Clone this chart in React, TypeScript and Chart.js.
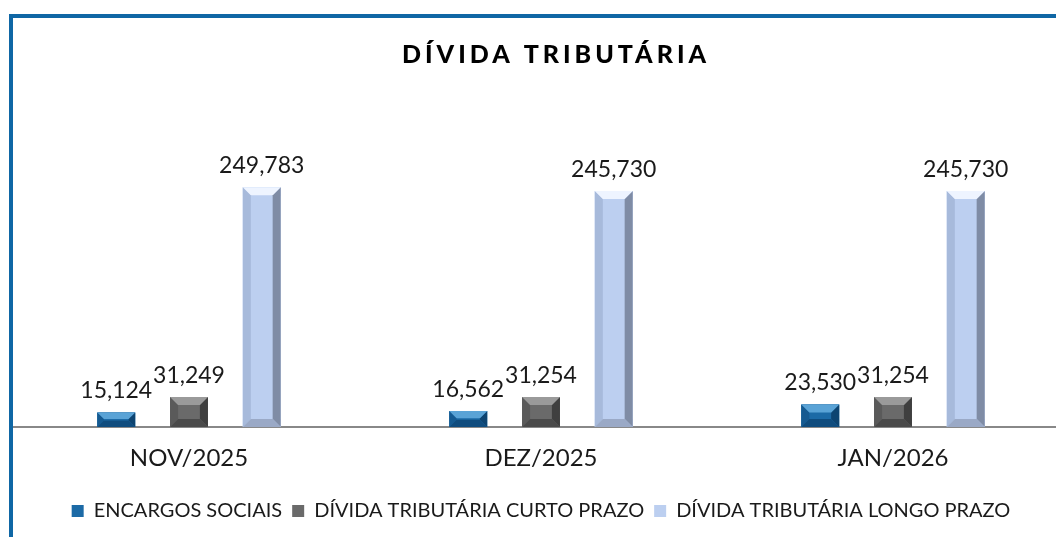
import React, { useEffect, useRef } from "react";
import { Chart, registerables } from "chart.js";

Chart.register(...registerables);

const categories = ["NOV/2025", "DEZ/2025", "JAN/2026"];
const encargosSociais = [15124, 16562, 23530];
const dividaCurtoPrazo = [31249, 31254, 31254];
const dividaLongoPrazo = [249783, 245730, 245730];
const seriesNames = [
  "ENCARGOS SOCIAIS",
  "DÍVIDA TRIBUTÁRIA CURTO PRAZO",
  "DÍVIDA TRIBUTÁRIA LONGO PRAZO",
];
const chartTitle = "DÍVIDA TRIBUTÁRIA";

const FONT = "Lato, 'Noto Sans', sans-serif";

type Bevel = { face: string; top: string; left: string; right: string; bottom: string };
const bevels: Bevel[] = [
  { face: "#1c6aa6", top: "#5aa3d6", left: "#155a91", right: "#0d4471", bottom: "#0f4c7e" },
  { face: "#6a6a6a", top: "#9a9a9a", left: "#5a5a5a", right: "#3f3f3f", bottom: "#4a4a4a" },
  { face: "#bccff0", top: "#eef4ff", left: "#a7badb", right: "#7f8ca5", bottom: "#9aa9c6" },
];

const fmt = (v: number) => v.toLocaleString("en-US");

const bevelPlugin = {
  id: "bevel",
  afterDatasetDraw(chart: any, args: any) {
    const ctx = chart.ctx;
    const b = bevels[args.index];
    const meta = args.meta;
    meta.data.forEach((el: any) => {
      const { x, y, base, width } = el.getProps(["x", "y", "base", "width"], true);
      const L = x - width / 2;
      const R = x + width / 2;
      const T = Math.min(y, base);
      const B = Math.max(y, base);
      const s = Math.min(8, (B - T) / 2.2, width / 4);
      const poly = (pts: number[][], c: string) => {
        ctx.beginPath();
        ctx.moveTo(pts[0][0], pts[0][1]);
        for (let i = 1; i < pts.length; i++) ctx.lineTo(pts[i][0], pts[i][1]);
        ctx.closePath();
        ctx.fillStyle = c;
        ctx.fill();
      };
      ctx.save();
      poly([[L, T], [R, T], [R, B], [L, B]], b.face);
      poly([[L, T], [L + s, T + s], [L + s, B - s], [L, B]], b.left);
      poly([[R, T], [R - s, T + s], [R - s, B - s], [R, B]], b.right);
      poly([[L, B], [L + s, B - s], [R - s, B - s], [R, B]], b.bottom);
      poly([[L, T], [R, T], [R - s, T + s], [L + s, T + s]], b.top);
      ctx.restore();
    });
  },
  afterDatasetsDraw(chart: any) {
    const ctx = chart.ctx;
    ctx.save();
    ctx.font = `23px ${FONT}`;
    ctx.fillStyle = "#1a1a1a";
    ctx.textAlign = "center";
    ctx.textBaseline = "bottom";
    chart.data.datasets.forEach((ds: any, i: number) => {
      const meta = chart.getDatasetMeta(i);
      meta.data.forEach((el: any, j: number) => {
        const { x, y } = el.getProps(["x", "y"], true);
        ctx.fillText(fmt(ds.data[j]), x, y - 10);
      });
    });
    ctx.restore();
  },
  afterDraw(chart: any) {
    const ctx = chart.ctx;
    ctx.save();
    ctx.font = `900 25px ${FONT}`;
    (ctx as any).letterSpacing = "4px";
    ctx.fillStyle = "#000";
    ctx.textAlign = "center";
    ctx.textBaseline = "middle";
    ctx.fillText(chartTitle, chart.width / 2 + 15, 37);
    ctx.restore();
  },
};

export default function App() {
  const ref = useRef<HTMLCanvasElement | null>(null);
  useEffect(() => {
    if (!ref.current) return;
    const values = [encargosSociais, dividaCurtoPrazo, dividaLongoPrazo];
    const chart = new Chart(ref.current, {
      type: "bar",
      data: {
        labels: categories,
        datasets: values.map((d, i) => ({
          label: seriesNames[i],
          data: d,
          backgroundColor: bevels[i].face,
          borderWidth: 0,
          barPercentage: 0.52,
          categoryPercentage: 0.62,
        })),
      },
      options: {
        responsive: false,
        animation: false,
        layout: { padding: { top: 121, left: 0, right: 0, bottom: 6 } },
        scales: {
          x: {
            grid: { display: true, drawOnChartArea: false, drawTicks: false },
            border: { display: true, color: "#888888", width: 2 },
            ticks: { color: "#1a1a1a", font: { family: FONT, size: 24 }, padding: 17 },
            afterFit: (scale: any) => {
              scale.height = 64;
            },
          },
          y: { display: false, min: 0, max: 300000 },
        },
        plugins: {
          title: { display: false },
          tooltip: { enabled: false },
          legend: {
            position: "bottom",
            labels: {
              color: "#1a1a1a",
              font: { family: FONT, size: 20 },
              boxWidth: 12,
              boxHeight: 12,
              padding: 10,
            },
          },
        },
      },
      plugins: [bevelPlugin],
    });
    return () => chart.destroy();
  }, []);

  return (
    <div style={{ position: "absolute", left: 0, top: 0, width: 1056, height: 537, overflow: "hidden", background: "#fff" }}>
      <div
        style={{
          position: "absolute",
          left: 9,
          top: 14,
          width: 1200,
          height: 600,
          borderLeft: "4px solid #0f67a5",
          borderTop: "4px solid #0f67a5",
        }}
      />
      <canvas ref={ref} width={1056} height={519} style={{ position: "absolute", left: 13, top: 18 }} />
    </div>
  );
}
